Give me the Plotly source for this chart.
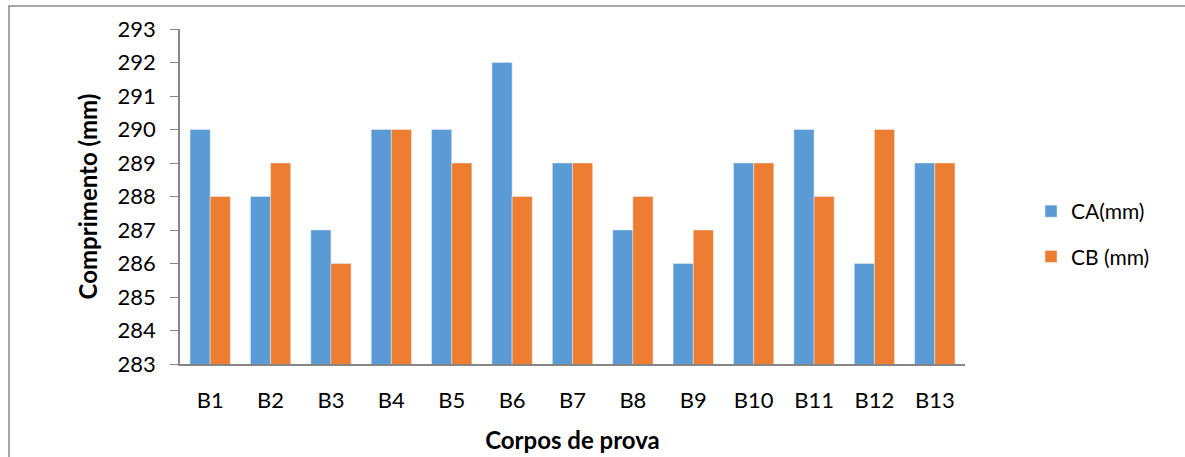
import plotly.graph_objects as go

categories = ["B1", "B2", "B3", "B4", "B5", "B6", "B7", "B8", "B9", "B10", "B11", "B12", "B13"]
ca_values = [290, 288, 287, 290, 290, 292, 289, 287, 286, 289, 290, 286, 289]
cb_values = [288, 289, 286, 290, 289, 288, 289, 288, 287, 289, 288, 290, 289]
y_ticks = [283, 284, 285, 286, 287, 288, 289, 290, 291, 292, 293]

W, H = 1185, 457
L, T = 180, 29
pw, ph = 785, 335
R, B = W - L - pw, H - T - ph

def px_x(p):
    return (p - L) / pw

def px_y(p):
    return (T + ph - p) / ph

font = "Lato, Carlito, Calibri, sans-serif"
fs = 22
tfs = 24

fig = go.Figure()
fig.add_trace(go.Bar(x=categories, y=ca_values, name="CA(mm)", marker_color="#5B9BD5",
                     legendgroup="a"))
fig.add_trace(go.Bar(x=categories, y=cb_values, name="CB (mm)", marker_color="#ED7D31",
                     legendgroup="b"))

fig.update_layout(
    width=W, height=H,
    margin=dict(l=L, r=R, t=T, b=B, autoexpand=False),
    paper_bgcolor="white", plot_bgcolor="white",
    barmode="group", bargap=0.333, bargroupgap=0,
    font=dict(family=font, size=fs, color="#000000"),
    showlegend=True,
    legend=dict(x=px_x(1031), y=px_y(191), xanchor="left", yanchor="top",
                font=dict(size=fs - 1), tracegroupgap=15, itemwidth=30,
                bgcolor="rgba(0,0,0,0)"),
    xaxis=dict(
        showline=True, linecolor="#868686", linewidth=1.5, automargin=False,
        ticks="", showgrid=False, ticklabelstandoff=16,
        title=dict(text="<b>Corpos de prova</b>", font=dict(size=tfs), standoff=20),
    ),
    yaxis=dict(
        range=[283, 293], tickvals=y_ticks, automargin=False,
        showline=True, linecolor="#868686", linewidth=1.5,
        ticks="outside", ticklen=8, tickcolor="#868686",
        showgrid=False, zeroline=False, ticklabelstandoff=10,
        title=dict(text="<b>Comprimento (mm)</b>", font=dict(size=tfs), standoff=13),
    ),
    shapes=[dict(type="rect", xref="paper", yref="paper",
                 x0=px_x(9), x1=px_x(1300), y0=px_y(6), y1=px_y(600),
                 line=dict(color="#898989", width=1.5), layer="below")],
)

fig.write_html("out.html", config={"displayModeBar": False},
               post_script="document.body.style.margin='0';")
